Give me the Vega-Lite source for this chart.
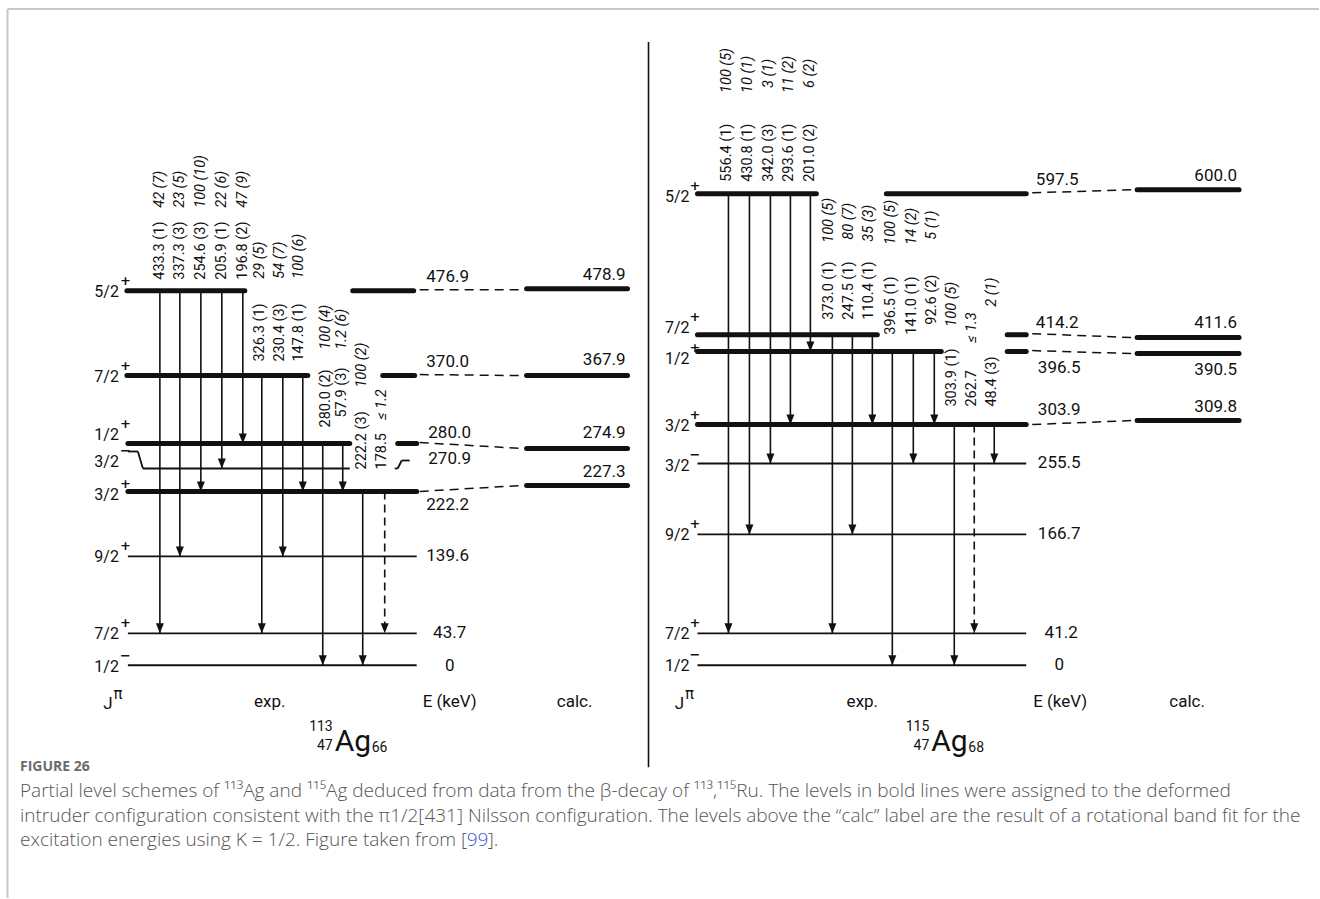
{
  "$schema": "https://vega.github.io/schema/vega-lite/v6.json",
  "width": 1320,
  "height": 899,
  "autosize": {"type": "fit", "contains": "padding"},
  "padding": 0,
  "background": "white",
  "config": {"view": {"stroke": null}},
  "datasets": {
    "segs": [
      {"kind": "frame", "x": 7.5, "y": 9, "x2": 1320, "y2": 9},
      {"kind": "frame", "x": 7.5, "y": 9, "x2": 7.5, "y2": 899},
      {"kind": "divider", "x": 649, "y": 42, "x2": 649, "y2": 768},

      {"kind": "bold", "x": 127, "y": 291, "x2": 245, "y2": 291},
      {"kind": "bold", "x": 353, "y": 291, "x2": 414, "y2": 291},
      {"kind": "bold", "x": 127, "y": 376, "x2": 308, "y2": 376},
      {"kind": "bold", "x": 383, "y": 376, "x2": 415, "y2": 376},
      {"kind": "bold", "x": 128, "y": 444, "x2": 350, "y2": 444},
      {"kind": "bold", "x": 398, "y": 444, "x2": 417, "y2": 444},
      {"kind": "bold", "x": 128, "y": 492, "x2": 417, "y2": 492},
      {"kind": "bold", "x": 527, "y": 289, "x2": 628, "y2": 289},
      {"kind": "bold", "x": 527, "y": 376, "x2": 628, "y2": 376},
      {"kind": "bold", "x": 527, "y": 449, "x2": 628, "y2": 449},
      {"kind": "bold", "x": 527, "y": 486, "x2": 628, "y2": 486},
      {"kind": "bold", "x": 698, "y": 194, "x2": 817, "y2": 194},
      {"kind": "bold", "x": 887, "y": 194, "x2": 1027, "y2": 194},
      {"kind": "bold", "x": 698, "y": 335, "x2": 878, "y2": 335},
      {"kind": "bold", "x": 1008, "y": 335, "x2": 1027, "y2": 335},
      {"kind": "bold", "x": 698, "y": 352, "x2": 942, "y2": 352},
      {"kind": "bold", "x": 1008, "y": 352, "x2": 1027, "y2": 352},
      {"kind": "bold", "x": 698, "y": 425, "x2": 1027, "y2": 425},
      {"kind": "bold", "x": 1138, "y": 190, "x2": 1240, "y2": 190},
      {"kind": "bold", "x": 1138, "y": 338, "x2": 1240, "y2": 338},
      {"kind": "bold", "x": 1138, "y": 354, "x2": 1240, "y2": 354},
      {"kind": "bold", "x": 1138, "y": 421, "x2": 1240, "y2": 421},

      {"kind": "thin", "x": 143, "y": 469, "x2": 350, "y2": 469},
      {"kind": "thin", "x": 128, "y": 452, "x2": 138, "y2": 452},
      {"kind": "thin", "x": 138, "y": 452, "x2": 143, "y2": 469},
      {"kind": "thin", "x": 395, "y": 469, "x2": 398, "y2": 469},
      {"kind": "thin", "x": 398, "y": 469, "x2": 402, "y2": 461},
      {"kind": "thin", "x": 402, "y": 461, "x2": 410, "y2": 461},
      {"kind": "thin", "x": 128, "y": 557, "x2": 417, "y2": 557},
      {"kind": "thin", "x": 128, "y": 634, "x2": 417, "y2": 634},
      {"kind": "thin", "x": 128, "y": 666, "x2": 417, "y2": 666},
      {"kind": "thin", "x": 698, "y": 464, "x2": 1027, "y2": 464},
      {"kind": "thin", "x": 698, "y": 535, "x2": 1027, "y2": 535},
      {"kind": "thin", "x": 698, "y": 634, "x2": 1027, "y2": 634},
      {"kind": "thin", "x": 698, "y": 666, "x2": 1027, "y2": 666},

      {"kind": "link", "x": 420, "y": 290, "x2": 523, "y2": 290},
      {"kind": "link", "x": 420, "y": 375, "x2": 523, "y2": 376},
      {"kind": "link", "x": 420, "y": 443, "x2": 523, "y2": 449},
      {"kind": "link", "x": 420, "y": 492, "x2": 523, "y2": 486},
      {"kind": "link", "x": 1033, "y": 193, "x2": 1134, "y2": 190},
      {"kind": "link", "x": 1033, "y": 334, "x2": 1134, "y2": 338},
      {"kind": "link", "x": 1033, "y": 351, "x2": 1134, "y2": 354},
      {"kind": "link", "x": 1033, "y": 425, "x2": 1134, "y2": 421},

      {"kind": "gamma", "x": 160, "y": 291, "x2": 160, "y2": 634},
      {"kind": "gamma", "x": 180, "y": 291, "x2": 180, "y2": 557},
      {"kind": "gamma", "x": 201, "y": 291, "x2": 201, "y2": 492},
      {"kind": "gamma", "x": 222, "y": 291, "x2": 222, "y2": 469},
      {"kind": "gamma", "x": 243, "y": 291, "x2": 243, "y2": 444},
      {"kind": "gamma", "x": 262, "y": 376, "x2": 262, "y2": 634},
      {"kind": "gamma", "x": 283, "y": 376, "x2": 283, "y2": 557},
      {"kind": "gamma", "x": 303, "y": 376, "x2": 303, "y2": 492},
      {"kind": "gamma", "x": 323, "y": 444, "x2": 323, "y2": 666},
      {"kind": "gamma", "x": 343, "y": 444, "x2": 343, "y2": 492},
      {"kind": "gamma", "x": 363, "y": 492, "x2": 363, "y2": 666},
      {"kind": "gammaD", "x": 385, "y": 492, "x2": 385, "y2": 634},
      {"kind": "gamma", "x": 729, "y": 194, "x2": 729, "y2": 634},
      {"kind": "gamma", "x": 750, "y": 194, "x2": 750, "y2": 535},
      {"kind": "gamma", "x": 771, "y": 194, "x2": 771, "y2": 464},
      {"kind": "gamma", "x": 791, "y": 194, "x2": 791, "y2": 425},
      {"kind": "gamma", "x": 811, "y": 194, "x2": 811, "y2": 352},
      {"kind": "gamma", "x": 833, "y": 335, "x2": 833, "y2": 634},
      {"kind": "gamma", "x": 853, "y": 335, "x2": 853, "y2": 535},
      {"kind": "gamma", "x": 873, "y": 335, "x2": 873, "y2": 425},
      {"kind": "gamma", "x": 893, "y": 352, "x2": 893, "y2": 666},
      {"kind": "gamma", "x": 914, "y": 352, "x2": 914, "y2": 464},
      {"kind": "gamma", "x": 935, "y": 352, "x2": 935, "y2": 425},
      {"kind": "gamma", "x": 955, "y": 425, "x2": 955, "y2": 666},
      {"kind": "gammaD", "x": 975, "y": 425, "x2": 975, "y2": 634},
      {"kind": "gamma", "x": 995, "y": 425, "x2": 995, "y2": 464}
    ],
    "labels": [
      {"kind": "lvl", "x": 448, "y": 277, "text": "476.9"},
      {"kind": "lvl", "x": 448, "y": 362, "text": "370.0"},
      {"kind": "lvl", "x": 450, "y": 433, "text": "280.0"},
      {"kind": "lvl", "x": 450, "y": 460, "text": "270.9"},
      {"kind": "lvl", "x": 448, "y": 506, "text": "222.2"},
      {"kind": "lvl", "x": 448, "y": 557, "text": "139.6"},
      {"kind": "lvl", "x": 450, "y": 634, "text": "43.7"},
      {"kind": "lvl", "x": 450, "y": 667, "text": "0"},
      {"kind": "lvl", "x": 1058, "y": 180, "text": "597.5"},
      {"kind": "lvl", "x": 1058, "y": 323, "text": "414.2"},
      {"kind": "lvl", "x": 1060, "y": 368, "text": "396.5"},
      {"kind": "lvl", "x": 1060, "y": 410, "text": "303.9"},
      {"kind": "lvl", "x": 1060, "y": 464, "text": "255.5"},
      {"kind": "lvl", "x": 1060, "y": 535, "text": "166.7"},
      {"kind": "lvl", "x": 1062, "y": 634, "text": "41.2"},
      {"kind": "lvl", "x": 1060, "y": 666, "text": "0"},

      {"kind": "calc", "x": 626, "y": 275, "text": "478.9"},
      {"kind": "calc", "x": 626, "y": 360, "text": "367.9"},
      {"kind": "calc", "x": 626, "y": 433, "text": "274.9"},
      {"kind": "calc", "x": 626, "y": 473, "text": "227.3"},
      {"kind": "calc", "x": 1238, "y": 176, "text": "600.0"},
      {"kind": "calc", "x": 1238, "y": 323, "text": "411.6"},
      {"kind": "calc", "x": 1238, "y": 370, "text": "390.5"},
      {"kind": "calc", "x": 1238, "y": 407, "text": "309.8"},

      {"kind": "jspin", "x": 119, "y": 292, "text": "5/2"},
      {"kind": "jspin", "x": 119, "y": 377, "text": "7/2"},
      {"kind": "jspin", "x": 119, "y": 435, "text": "1/2"},
      {"kind": "jspin", "x": 119, "y": 463, "text": "3/2"},
      {"kind": "jspin", "x": 119, "y": 496, "text": "3/2"},
      {"kind": "jspin", "x": 119, "y": 558, "text": "9/2"},
      {"kind": "jspin", "x": 119, "y": 635, "text": "7/2"},
      {"kind": "jspin", "x": 119, "y": 668, "text": "1/2"},
      {"kind": "jspin", "x": 690, "y": 197, "text": "5/2"},
      {"kind": "jspin", "x": 690, "y": 328, "text": "7/2"},
      {"kind": "jspin", "x": 690, "y": 359, "text": "1/2"},
      {"kind": "jspin", "x": 690, "y": 426, "text": "3/2"},
      {"kind": "jspin", "x": 690, "y": 467, "text": "3/2"},
      {"kind": "jspin", "x": 690, "y": 536, "text": "9/2"},
      {"kind": "jspin", "x": 690, "y": 635, "text": "7/2"},
      {"kind": "jspin", "x": 690, "y": 667, "text": "1/2"},

      {"kind": "parity", "x": 120, "y": 281, "text": "+"},
      {"kind": "parity", "x": 120, "y": 366, "text": "+"},
      {"kind": "parity", "x": 120, "y": 424, "text": "+"},
      {"kind": "parity", "x": 120, "y": 452, "text": "−"},
      {"kind": "parity", "x": 120, "y": 485, "text": "+"},
      {"kind": "parity", "x": 120, "y": 547, "text": "+"},
      {"kind": "parity", "x": 120, "y": 624, "text": "+"},
      {"kind": "parity", "x": 120, "y": 657, "text": "−"},
      {"kind": "parity", "x": 690, "y": 186, "text": "+"},
      {"kind": "parity", "x": 690, "y": 317, "text": "+"},
      {"kind": "parity", "x": 690, "y": 348, "text": "+"},
      {"kind": "parity", "x": 690, "y": 415, "text": "+"},
      {"kind": "parity", "x": 690, "y": 456, "text": "−"},
      {"kind": "parity", "x": 690, "y": 525, "text": "+"},
      {"kind": "parity", "x": 690, "y": 624, "text": "+"},
      {"kind": "parity", "x": 690, "y": 656, "text": "−"},

      {"kind": "gE", "x": 160, "y": 280, "text": "433.3 (1)"},
      {"kind": "gE", "x": 180, "y": 280, "text": "337.3 (3)"},
      {"kind": "gE", "x": 201, "y": 280, "text": "254.6 (3)"},
      {"kind": "gE", "x": 222, "y": 280, "text": "205.9 (1)"},
      {"kind": "gE", "x": 243, "y": 280, "text": "196.8 (2)"},
      {"kind": "gE", "x": 260, "y": 362, "text": "326.3 (1)"},
      {"kind": "gE", "x": 280, "y": 362, "text": "230.4 (3)"},
      {"kind": "gE", "x": 299, "y": 362, "text": "147.8 (1)"},
      {"kind": "gE", "x": 326, "y": 428, "text": "280.0 (2)"},
      {"kind": "gE", "x": 342, "y": 418, "text": "57.9 (3)"},
      {"kind": "gE", "x": 362, "y": 470, "text": "222.2 (3)"},
      {"kind": "gE", "x": 382, "y": 470, "text": "178.5"},
      {"kind": "gE", "x": 728, "y": 182, "text": "556.4 (1)"},
      {"kind": "gE", "x": 749, "y": 182, "text": "430.8 (1)"},
      {"kind": "gE", "x": 770, "y": 182, "text": "342.0 (3)"},
      {"kind": "gE", "x": 790, "y": 182, "text": "293.6 (1)"},
      {"kind": "gE", "x": 811, "y": 182, "text": "201.0 (2)"},
      {"kind": "gE", "x": 830, "y": 320, "text": "373.0 (1)"},
      {"kind": "gE", "x": 850, "y": 320, "text": "247.5 (1)"},
      {"kind": "gE", "x": 870, "y": 320, "text": "110.4 (1)"},
      {"kind": "gE", "x": 892, "y": 335, "text": "396.5 (1)"},
      {"kind": "gE", "x": 913, "y": 335, "text": "141.0 (1)"},
      {"kind": "gE", "x": 933, "y": 325, "text": "92.6 (2)"},
      {"kind": "gE", "x": 953, "y": 407, "text": "303.9 (1)"},
      {"kind": "gE", "x": 973, "y": 407, "text": "262.7"},
      {"kind": "gE", "x": 993, "y": 407, "text": "48.4 (3)"},

      {"kind": "gI", "x": 160, "y": 208, "text": "42 (7)"},
      {"kind": "gI", "x": 180, "y": 208, "text": "23 (5)"},
      {"kind": "gI", "x": 201, "y": 208, "text": "100 (10)"},
      {"kind": "gI", "x": 222, "y": 208, "text": "22 (6)"},
      {"kind": "gI", "x": 243, "y": 208, "text": "47 (9)"},
      {"kind": "gI", "x": 260, "y": 279, "text": "29 (5)"},
      {"kind": "gI", "x": 280, "y": 279, "text": "54 (7)"},
      {"kind": "gI", "x": 299, "y": 279, "text": "100 (6)"},
      {"kind": "gI", "x": 326, "y": 350, "text": "100 (4)"},
      {"kind": "gI", "x": 342, "y": 350, "text": "1.2 (6)"},
      {"kind": "gI", "x": 362, "y": 388, "text": "100 (2)"},
      {"kind": "gI", "x": 382, "y": 420, "text": "≤ 1.2"},
      {"kind": "gI", "x": 728, "y": 93, "text": "100 (5)"},
      {"kind": "gI", "x": 749, "y": 93, "text": "10 (1)"},
      {"kind": "gI", "x": 770, "y": 88, "text": "3 (1)"},
      {"kind": "gI", "x": 790, "y": 93, "text": "11 (2)"},
      {"kind": "gI", "x": 811, "y": 88, "text": "6 (2)"},
      {"kind": "gI", "x": 830, "y": 243, "text": "100 (5)"},
      {"kind": "gI", "x": 850, "y": 240, "text": "80 (7)"},
      {"kind": "gI", "x": 870, "y": 242, "text": "35 (3)"},
      {"kind": "gI", "x": 892, "y": 245, "text": "100 (5)"},
      {"kind": "gI", "x": 913, "y": 245, "text": "14 (2)"},
      {"kind": "gI", "x": 933, "y": 240, "text": "5 (1)"},
      {"kind": "gI", "x": 953, "y": 327, "text": "100 (5)"},
      {"kind": "gI", "x": 973, "y": 343, "text": "≤ 1.3"},
      {"kind": "gI", "x": 993, "y": 307, "text": "2 (1)"},

      {"kind": "foot", "x": 108, "y": 705, "text": "J"},
      {"kind": "foot", "x": 270, "y": 703, "text": "exp."},
      {"kind": "foot", "x": 450, "y": 703, "text": "E (keV)"},
      {"kind": "foot", "x": 575, "y": 703, "text": "calc."},
      {"kind": "foot", "x": 680, "y": 705, "text": "J"},
      {"kind": "foot", "x": 863, "y": 703, "text": "exp."},
      {"kind": "foot", "x": 1061, "y": 703, "text": "E (keV)"},
      {"kind": "foot", "x": 1188, "y": 703, "text": "calc."},
      {"kind": "pi", "x": 118, "y": 695, "text": "π"},
      {"kind": "pi", "x": 690, "y": 695, "text": "π"},

      {"kind": "nucA", "x": 335, "y": 752, "text": "Ag"},
      {"kind": "nucL", "x": 333, "y": 728, "text": "113"},
      {"kind": "nucL", "x": 333, "y": 747, "text": "47"},
      {"kind": "nucR", "x": 372, "y": 749, "text": "66"},
      {"kind": "nucA", "x": 932, "y": 752, "text": "Ag"},
      {"kind": "nucL", "x": 930, "y": 728, "text": "115"},
      {"kind": "nucL", "x": 930, "y": 747, "text": "47"},
      {"kind": "nucR", "x": 969, "y": 749, "text": "68"},

      {"kind": "fig", "x": 20, "y": 768, "text": "FIGURE 26"},
      {"kind": "cap", "x": 20, "y": 792, "text": "Partial level schemes of ¹¹³Ag and ¹¹⁵Ag deduced from data from the β-decay of ¹¹³,¹¹⁵Ru. The levels in bold lines were assigned to the deformed"},
      {"kind": "cap", "x": 20, "y": 817, "text": "intruder configuration consistent with the π1/2[431] Nilsson configuration. The levels above the “calc” label are the result of a rotational band fit for the"},
      {"kind": "cap", "x": 20, "y": 841, "text": "excitation energies using K = 1/2. Figure taken from ["},
      {"kind": "ref", "x": 467, "y": 841, "text": "99"},
      {"kind": "cap", "x": 488, "y": 841, "text": "]."}
    ]
  },
  "encoding": {
    "x": {"field": "x", "type": "quantitative", "scale": {"domain": [0, 1320], "nice": false, "zero": false}, "axis": null},
    "y": {"field": "y", "type": "quantitative", "scale": {"domain": [0, 899], "nice": false, "zero": false, "reverse": true}, "axis": null}
  },
  "layer": [
    {"data": {"name": "segs"}, "transform": [{"filter": "datum.kind === 'frame'"}],
     "mark": {"type": "rule", "color": "#c9c9c9", "strokeWidth": 2},
     "encoding": {"x2": {"field": "x2"}, "y2": {"field": "y2"}}},
    {"data": {"name": "segs"}, "transform": [{"filter": "datum.kind === 'divider'"}],
     "mark": {"type": "rule", "color": "#111", "strokeWidth": 1.6},
     "encoding": {"x2": {"field": "x2"}, "y2": {"field": "y2"}}},
    {"data": {"name": "segs"}, "transform": [{"filter": "datum.kind === 'thin'"}],
     "mark": {"type": "rule", "color": "#111", "strokeWidth": 1.8},
     "encoding": {"x2": {"field": "x2"}, "y2": {"field": "y2"}}},
    {"data": {"name": "segs"}, "transform": [{"filter": "datum.kind === 'link'"}],
     "mark": {"type": "rule", "color": "#111", "strokeWidth": 1.5, "strokeDash": [9, 6]},
     "encoding": {"x2": {"field": "x2"}, "y2": {"field": "y2"}}},
    {"data": {"name": "segs"}, "transform": [{"filter": "datum.kind === 'gamma'"}],
     "mark": {"type": "rule", "color": "#111", "strokeWidth": 1.6},
     "encoding": {"x2": {"field": "x2"}, "y2": {"field": "y2"}}},
    {"data": {"name": "segs"}, "transform": [{"filter": "datum.kind === 'gammaD'"}],
     "mark": {"type": "rule", "color": "#111", "strokeWidth": 1.6, "strokeDash": [8, 5]},
     "encoding": {"x2": {"field": "x2"}, "y2": {"field": "y2"}}},
    {"data": {"name": "segs"}, "transform": [{"filter": "datum.kind === 'bold'"}],
     "mark": {"type": "rule", "color": "#111", "strokeWidth": 5, "strokeCap": "round"},
     "encoding": {"x2": {"field": "x2"}, "y2": {"field": "y2"}}},
    {"data": {"name": "segs"}, "transform": [{"filter": "datum.kind === 'gamma' || datum.kind === 'gammaD'"}],
     "mark": {"type": "point", "shape": "M-0.8,-1L0.8,-1L0,1Z", "filled": true, "color": "#111", "opacity": 1, "size": 100, "yOffset": -5},
     "encoding": {"y": {"field": "y2", "type": "quantitative"}}},

    {"data": {"name": "labels"}, "transform": [{"filter": "datum.kind === 'lvl'"}],
     "mark": {"type": "text", "align": "center", "baseline": "middle", "fontSize": 17, "font": "Roboto, sans-serif", "color": "#111"},
     "encoding": {"text": {"field": "text"}}},
    {"data": {"name": "labels"}, "transform": [{"filter": "datum.kind === 'calc'"}],
     "mark": {"type": "text", "align": "right", "baseline": "middle", "fontSize": 17, "font": "Roboto, sans-serif", "color": "#111"},
     "encoding": {"text": {"field": "text"}}},
    {"data": {"name": "labels"}, "transform": [{"filter": "datum.kind === 'jspin'"}],
     "mark": {"type": "text", "align": "right", "baseline": "middle", "fontSize": 16, "font": "Roboto, sans-serif", "color": "#111"},
     "encoding": {"text": {"field": "text"}}},
    {"data": {"name": "labels"}, "transform": [{"filter": "datum.kind === 'parity'"}],
     "mark": {"type": "text", "align": "left", "baseline": "middle", "fontSize": 13, "fontWeight": "bold", "font": "DejaVu Sans, sans-serif", "color": "#111"},
     "encoding": {"text": {"field": "text"}}},
    {"data": {"name": "labels"}, "transform": [{"filter": "datum.kind === 'gE'"}],
     "mark": {"type": "text", "angle": 270, "align": "left", "baseline": "middle", "fontSize": 14.5, "font": "Roboto, sans-serif", "color": "#111"},
     "encoding": {"text": {"field": "text"}}},
    {"data": {"name": "labels"}, "transform": [{"filter": "datum.kind === 'gI'"}],
     "mark": {"type": "text", "angle": 270, "align": "left", "baseline": "middle", "fontSize": 14.5, "fontStyle": "italic", "font": "Roboto, sans-serif", "color": "#111"},
     "encoding": {"text": {"field": "text"}}},
    {"data": {"name": "labels"}, "transform": [{"filter": "datum.kind === 'foot'"}],
     "mark": {"type": "text", "align": "center", "baseline": "middle", "fontSize": 17, "font": "Roboto, sans-serif", "color": "#111"},
     "encoding": {"text": {"field": "text"}}},
    {"data": {"name": "labels"}, "transform": [{"filter": "datum.kind === 'pi'"}],
     "mark": {"type": "text", "align": "center", "baseline": "middle", "fontSize": 15, "font": "DejaVu Sans, sans-serif", "color": "#111"},
     "encoding": {"text": {"field": "text"}}},
    {"data": {"name": "labels"}, "transform": [{"filter": "datum.kind === 'nucA'"}],
     "mark": {"type": "text", "align": "left", "baseline": "alphabetic", "fontSize": 30, "font": "Roboto, sans-serif", "color": "#111"},
     "encoding": {"text": {"field": "text"}}},
    {"data": {"name": "labels"}, "transform": [{"filter": "datum.kind === 'nucL'"}],
     "mark": {"type": "text", "align": "right", "baseline": "middle", "fontSize": 14, "font": "Roboto, sans-serif", "color": "#111"},
     "encoding": {"text": {"field": "text"}}},
    {"data": {"name": "labels"}, "transform": [{"filter": "datum.kind === 'nucR'"}],
     "mark": {"type": "text", "align": "left", "baseline": "middle", "fontSize": 14, "font": "Roboto, sans-serif", "color": "#111"},
     "encoding": {"text": {"field": "text"}}},
    {"data": {"name": "labels"}, "transform": [{"filter": "datum.kind === 'fig'"}],
     "mark": {"type": "text", "align": "left", "baseline": "middle", "fontSize": 14, "fontWeight": "bold", "font": "Open Sans, sans-serif", "color": "#6b6b6b"},
     "encoding": {"text": {"field": "text"}}},
    {"data": {"name": "labels"}, "transform": [{"filter": "datum.kind === 'cap'"}],
     "mark": {"type": "text", "align": "left", "baseline": "middle", "fontSize": 19, "fontWeight": 300, "font": "Open Sans, sans-serif", "color": "#555555"},
     "encoding": {"text": {"field": "text"}}},
    {"data": {"name": "labels"}, "transform": [{"filter": "datum.kind === 'ref'"}],
     "mark": {"type": "text", "align": "left", "baseline": "middle", "fontSize": 19, "fontWeight": 300, "font": "Open Sans, sans-serif", "color": "#3b5bdb"},
     "encoding": {"text": {"field": "text"}}}
  ]
}
